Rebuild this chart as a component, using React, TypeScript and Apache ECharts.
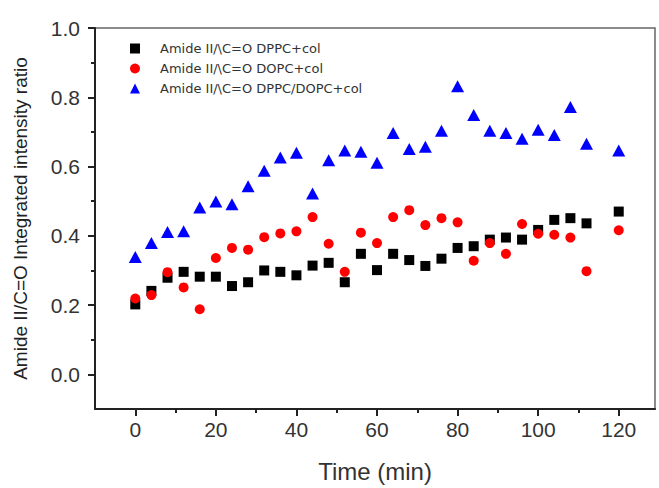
import React, { useEffect, useRef } from 'react';
import * as echarts from 'echarts';

const time = [0, 4, 8, 12, 16, 20, 24, 28, 32, 36, 40, 44, 48, 52, 56, 60, 64, 68, 72, 76, 80, 84, 88, 92, 96, 100, 104, 108, 112, 120];
const dppcCol = [0.202, 0.241, 0.279, 0.296, 0.282, 0.282, 0.255, 0.266, 0.300, 0.296, 0.286, 0.314, 0.322, 0.266, 0.348, 0.301, 0.348, 0.330, 0.313, 0.334, 0.365, 0.370, 0.389, 0.395, 0.389, 0.417, 0.446, 0.451, 0.436, 0.470];
const dopcCol = [0.219, 0.229, 0.295, 0.251, 0.188, 0.336, 0.365, 0.360, 0.396, 0.407, 0.413, 0.454, 0.377, 0.296, 0.409, 0.379, 0.454, 0.474, 0.431, 0.451, 0.439, 0.328, 0.379, 0.348, 0.434, 0.406, 0.403, 0.395, 0.298, 0.416];
const mixCol = [0.339, 0.379, 0.411, 0.413, 0.482, 0.499, 0.491, 0.543, 0.588, 0.626, 0.640, 0.522, 0.618, 0.646, 0.643, 0.611, 0.697, 0.651, 0.657, 0.703, 0.832, 0.749, 0.703, 0.697, 0.680, 0.706, 0.691, 0.772, 0.666, 0.646];

const seriesNames = [
  'Amide II/\\C=O DPPC+col',
  'Amide II/\\C=O DOPC+col',
  'Amide II/\\C=O DPPC/DOPC+col',
];

const xMajorTicks = [0, 20, 40, 60, 80, 100, 120];
const xMinorTicks = [10, 30, 50, 70, 90, 110];
const yMajorTicks = [0, 0.2, 0.4, 0.6, 0.8, 1.0];
const yMinorTicks = [0.1, 0.3, 0.5, 0.7, 0.9];

const xTitle = 'Time (min)';
const yTitle = 'Amide II/C=O Integrated intensity ratio';

const pair = (ys: number[]) => time.map((t, i) => [t, ys[i]]);

export default function App() {
  const ref = useRef<HTMLDivElement>(null);
  useEffect(() => {
    document.body.style.margin = '0';
    if (!ref.current) return;
    const chart = echarts.init(ref.current, null, { renderer: 'svg' });
    const labelFont = 'Arial, "Liberation Sans", sans-serif';
    const axisColor = '#222';
    chart.setOption({
      animation: false,
      backgroundColor: '#fff',
      grid: {
        left: 95,
        right: 4,
        top: 28,
        bottom: 75,
        show: true,
        borderColor: '#666',
        borderWidth: 1.5,
      },
      legend: {
        orient: 'vertical',
        left: 125,
        top: 37,
        itemWidth: 10,
        itemHeight: 10,
        itemGap: 7,
        textStyle: {
          fontFamily: '"DejaVu Sans", sans-serif',
          fontSize: 13,
          color: '#333',
          lineHeight: 10,
          padding: [0, 0, 0, 15],
        },
        data: seriesNames,
      },
      xAxis: [
        {
          type: 'value',
          min: -10,
          max: 129,
          position: 'bottom',
          name: xTitle,
          nameLocation: 'middle',
          nameGap: 50,
          nameTextStyle: { fontFamily: labelFont, fontSize: 24, color: '#333' },
          axisLine: { show: true, onZero: false, lineStyle: { color: axisColor, width: 2 } },
          axisTick: { show: true, customValues: xMajorTicks, length: 7, lineStyle: { color: axisColor, width: 2 } },
          axisLabel: { customValues: xMajorTicks, margin: 10, fontFamily: labelFont, fontSize: 21, color: '#333' },
          splitLine: { show: false },
        },
        {
          type: 'value',
          min: -10,
          max: 129,
          position: 'bottom',
          axisLine: { show: false, onZero: false },
          axisTick: { show: true, customValues: xMinorTicks, length: 4, lineStyle: { color: axisColor, width: 2 } },
          axisLabel: { show: false },
          splitLine: { show: false },
        },
      ],
      yAxis: [
        {
          type: 'value',
          min: -0.1,
          max: 1.0,
          position: 'left',
          name: yTitle,
          nameLocation: 'middle',
          nameGap: 65,
          nameTextStyle: { fontFamily: labelFont, fontSize: 19, color: '#222' },
          axisLine: { show: true, onZero: false, lineStyle: { color: axisColor, width: 2 } },
          axisTick: { show: true, customValues: yMajorTicks, length: 7, lineStyle: { color: axisColor, width: 2 } },
          axisLabel: {
            customValues: yMajorTicks,
            margin: 15,
            fontFamily: labelFont,
            fontSize: 21,
            color: '#333',
            formatter: (v: number) => v.toFixed(1),
          },
          splitLine: { show: false },
        },
        {
          type: 'value',
          min: -0.1,
          max: 1.0,
          position: 'left',
          axisLine: { show: false, onZero: false },
          axisTick: { show: true, customValues: yMinorTicks, length: 4, lineStyle: { color: axisColor, width: 2 } },
          axisLabel: { show: false },
          splitLine: { show: false },
        },
      ],
      series: [
        {
          name: seriesNames[0],
          type: 'scatter',
          symbol: 'rect',
          symbolSize: 10,
          itemStyle: { color: '#000', opacity: 1 },
          data: pair(dppcCol),
          z: 2,
        },
        {
          name: seriesNames[1],
          type: 'scatter',
          symbol: 'circle',
          symbolSize: 10,
          itemStyle: { color: '#ff0000', opacity: 1 },
          data: pair(dopcCol),
          z: 3,
        },
        {
          name: seriesNames[2],
          type: 'scatter',
          symbol: 'triangle',
          symbolSize: [13, 12],
          itemStyle: { color: '#0000ff', opacity: 1 },
          data: pair(mixCol),
          z: 4,
        },
      ],
    });
    return () => chart.dispose();
  }, []);
  return <div ref={ref} style={{ width: 659, height: 488 }} />;
}
